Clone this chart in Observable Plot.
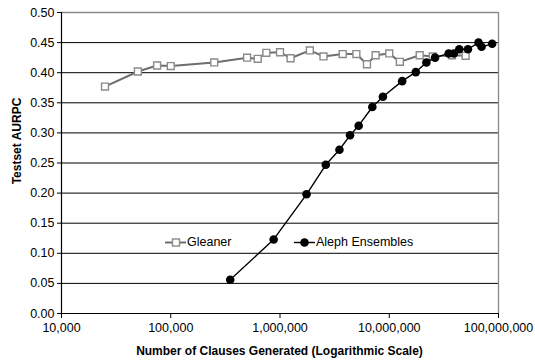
<!DOCTYPE html>
<html>
<head>
<meta charset="utf-8">
<script src="https://cdn.jsdelivr.net/npm/d3@7"></script>
<script src="https://cdn.jsdelivr.net/npm/@observablehq/plot@0.6"></script>
<style>
  html, body { margin: 0; padding: 0; background: #fff; }
  #chart svg { display: block; overflow: visible; font-family: "Liberation Sans", Arial, sans-serif; }
</style>
</head>
<body>
<div id="chart"></div>
<script>
// Gleaner: clauses generated vs. testset AURPC
const gleanerClauses = [25000, 50000, 75000, 100000, 250000, 500000, 625000, 750000, 1000000, 1250000,
  1875000, 2500000, 3750000, 5000000, 6250000, 7500000, 10000000, 12500000, 19000000, 25000000, 37500000, 50000000];
const gleanerAurpc = [0.377, 0.402, 0.412, 0.411, 0.417, 0.425, 0.423, 0.433, 0.434, 0.424,
  0.437, 0.427, 0.431, 0.431, 0.414, 0.429, 0.432, 0.418, 0.429, 0.427, 0.429, 0.428];

// Aleph ensembles: clauses generated vs. testset AURPC
const alephClauses = [350000, 875000, 1750000, 2625000, 3500000, 4375000, 5250000, 7000000, 8750000,
  13125000, 17500000, 21875000, 26250000, 35000000, 39000000, 43750000, 52500000, 65625000, 70000000, 87500000];
const alephAurpc = [0.056, 0.123, 0.198, 0.247, 0.272, 0.296, 0.312, 0.343, 0.360,
  0.386, 0.401, 0.417, 0.425, 0.432, 0.432, 0.439, 0.439, 0.450, 0.443, 0.448];

const xTicks = [1e4, 1e5, 1e6, 1e7, 1e8];
const yTicks = [0, 0.05, 0.10, 0.15, 0.20, 0.25, 0.30, 0.35, 0.40, 0.45, 0.50];

const seriesNames = ["Gleaner", "Aleph Ensembles"];
const xTitle = "Number of Clauses Generated (Logarithmic Scale)";
const yTitle = "Testset AURPC";

const gleaner = gleanerClauses.map((x, i) => ({x, y: gleanerAurpc[i]}));
const aleph = alephClauses.map((x, i) => ({x, y: alephAurpc[i]}));

const W = 535, H = 362;
const mL = 61, mR = 37, mT = 12, mB = 49;

const chart = Plot.plot({
  width: W,
  height: H,
  marginLeft: mL,
  marginRight: mR,
  marginTop: mT,
  marginBottom: mB,
  style: {fontFamily: "'Liberation Sans', Arial, sans-serif", fontSize: "12.5px", color: "#000", background: "#fff"},
  x: {type: "log", domain: [1e4, 1e8]},
  y: {domain: [0, 0.5]},
  marks: [
    // horizontal gridlines
    Plot.ruleY(yTicks.filter(d => d > 0 && d < 0.5), {stroke: "#000", strokeWidth: 1}),
    // plot-area border (top and right)
    Plot.ruleY([0.5], {stroke: "#888", strokeWidth: 1.3}),
    Plot.ruleX([1e8], {stroke: "#888", strokeWidth: 1.3}),
    // axes lines
    Plot.ruleX([1e4], {stroke: "#000", strokeWidth: 1.2}),
    Plot.ruleY([0], {stroke: "#000", strokeWidth: 1.2}),
    Plot.axisY({ticks: yTicks, tickFormat: d3.format(".2f"), tickSize: 4, tickPadding: 3, label: null, stroke: "#000"}),
    Plot.axisX({ticks: xTicks, tickFormat: d3.format(","), tickSize: 5, tickPadding: 5, label: null, stroke: "#000"}),
    // Gleaner series
    Plot.line(gleaner, {x: "x", y: "y", stroke: "#6e6e6e", strokeWidth: 2}),
    Plot.dot(gleaner, {x: "x", y: "y", symbol: "square", r: 3.9, fill: "#fff", stroke: "#8a8a8a", strokeWidth: 1.4}),
    // Aleph ensembles series
    Plot.line(aleph, {x: "x", y: "y", stroke: "#000", strokeWidth: 1.4}),
    Plot.dot(aleph, {x: "x", y: "y", r: 4.3, fill: "#000", stroke: "none"})
  ]
});

document.getElementById("chart").appendChild(chart);

// axis titles and in-plot legend
const svg = d3.select(chart);

svg.append("text")
  .attr("x", (mL + W - mR) / 2)
  .attr("y", 352)
  .attr("text-anchor", "middle")
  .attr("dominant-baseline", "middle")
  .attr("font-weight", "bold")
  .attr("font-size", 12)
  .attr("fill", "#000")
  .text(xTitle);

svg.append("text")
  .attr("transform", "translate(18,141) rotate(-90)")
  .attr("text-anchor", "middle")
  .attr("dominant-baseline", "middle")
  .attr("font-weight", "bold")
  .attr("font-size", 12)
  .attr("fill", "#000")
  .text(yTitle);

const legendY = 242.5;
const lg = svg.append("g").attr("font-size", 12.5).attr("text-anchor", "start");

// Gleaner key
lg.append("line").attr("x1", 165).attr("x2", 186).attr("y1", legendY).attr("y2", legendY)
  .attr("stroke", "#6e6e6e").attr("stroke-width", 2);
lg.append("rect").attr("x", 172.5).attr("y", legendY - 3.5).attr("width", 7).attr("height", 7)
  .attr("fill", "#fff").attr("stroke", "#8a8a8a").attr("stroke-width", 1.4);
lg.append("text").attr("x", 187).attr("y", legendY).attr("dominant-baseline", "middle")
  .attr("text-anchor", "start").attr("fill", "#000").text(seriesNames[0]);

// Aleph key
lg.append("line").attr("x1", 294).attr("x2", 315).attr("y1", legendY).attr("y2", legendY)
  .attr("stroke", "#000").attr("stroke-width", 1.4);
lg.append("circle").attr("cx", 304.5).attr("cy", legendY).attr("r", 4.3).attr("fill", "#000");
lg.append("text").attr("x", 316).attr("y", legendY).attr("dominant-baseline", "middle")
  .attr("text-anchor", "start").attr("fill", "#000").text(seriesNames[1]);
</script>
</body>
</html>
